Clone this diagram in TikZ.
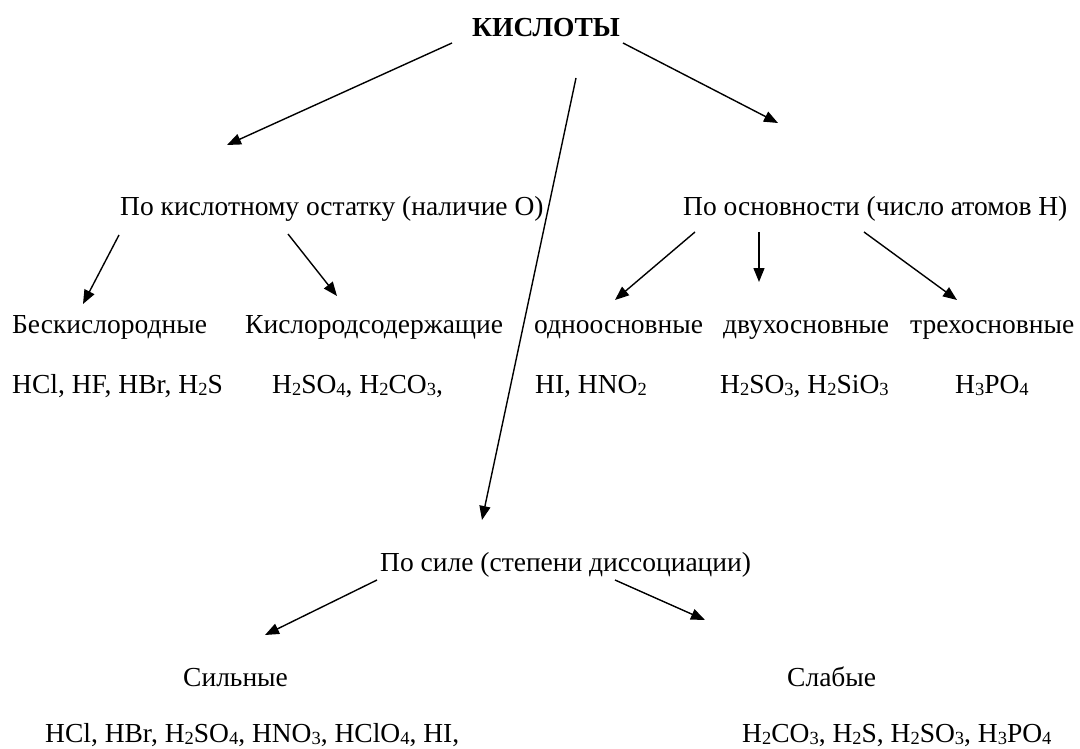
\documentclass[tikz,border=0pt]{standalone}
\usepackage{fontspec}
\setmainfont{Liberation Serif}
\usetikzlibrary{arrows.meta}
\newcommand\sbs[1]{\raisebox{-0.1em}{\fontsize{18.5}{18.5}\selectfont #1}}
\tikzset{
  lbl/.style={anchor=base west, inner sep=0pt, font=\fontsize{27.5}{30}\selectfont},
  ttl/.style={anchor=base west, inner sep=0pt, font=\fontsize{27.5}{30}\selectfont\bfseries},
  arr/.style={line width=1.4pt, -{Triangle[length=14pt,width=11pt]}}
}
\begin{document}
\begin{tikzpicture}[x=1pt,y=-1pt]
\useasboundingbox (0,0) rectangle (1080,749);
% texts
\node[ttl] (root) at (472,37) {КИСЛОТЫ};
\node[lbl] (ost) at (120,215) {По кислотному остатку (наличие О)};
\node[lbl] (osn) at (683,215) {По основности (число атомов Н)};
\node[lbl] (besk) at (12,333) {Бескислородные};
\node[lbl] (kisl) at (245,333) {Кислородсодержащие};
\node[lbl] (odno) at (534,333) {одноосновные};
\node[lbl] (dvu) at (723,333) {двухосновные};
\node[lbl] (tre) at (910,333) {трехосновные};
\node[lbl] (e1) at (12,393) {HCl, HF, HBr, H\sbs{2}S};
\node[lbl] (e2) at (272,393) {H\sbs{2}SO\sbs{4}, H\sbs{2}CO\sbs{3},};
\node[lbl] (e3) at (535,393) {HI, HNO\sbs{2}};
\node[lbl] (e4) at (720,393) {H\sbs{2}SO\sbs{3}, H\sbs{2}SiO\sbs{3}};
\node[lbl] (e5) at (955,393) {H\sbs{3}PO\sbs{4}};
\node[lbl] (sila) at (380,571) {По силе (степени диссоциации)};
\node[lbl] (silnye) at (183,686) {Сильные};
\node[lbl] (slabye) at (787,686) {Слабые};
\node[lbl] (e6) at (45,742) {HCl, HBr, H\sbs{2}SO\sbs{4}, HNO\sbs{3}, HClO\sbs{4}, HI,};
\node[lbl] (e7) at (742,742) {H\sbs{2}CO\sbs{3}, H\sbs{2}S, H\sbs{2}SO\sbs{3}, H\sbs{3}PO\sbs{4}};
% connector end points
\coordinate (a1s) at (452,43);  \coordinate (a1e) at (227,145);
\coordinate (a2s) at (623,43);  \coordinate (a2e) at (778,123);
\coordinate (a3s) at (576,78);  \coordinate (a3e) at (482,520);
\coordinate (a4s) at (119,235); \coordinate (a4e) at (83,304);
\coordinate (a5s) at (288,234); \coordinate (a5e) at (337,296);
\coordinate (a6s) at (695,232); \coordinate (a6e) at (615,300);
\coordinate (a7s) at (759,232); \coordinate (a7e) at (759,282);
\coordinate (a8s) at (864,232); \coordinate (a8e) at (957,300);
\coordinate (a9s) at (377,580); \coordinate (a9e) at (265,635);
\coordinate (a10s) at (615,580); \coordinate (a10e) at (705,620);
% connectors
\draw[arr] (a1s) -- (a1e);
\draw[arr] (a2s) -- (a2e);
\draw[arr] (a3s) -- (a3e);
\draw[arr] (a4s) -- (a4e);
\draw[arr] (a5s) -- (a5e);
\draw[arr] (a6s) -- (a6e);
\draw[arr] (a7s) -- (a7e);
\draw[arr] (a8s) -- (a8e);
\draw[arr] (a9s) -- (a9e);
\draw[arr] (a10s) -- (a10e);
\end{tikzpicture}
\end{document}
